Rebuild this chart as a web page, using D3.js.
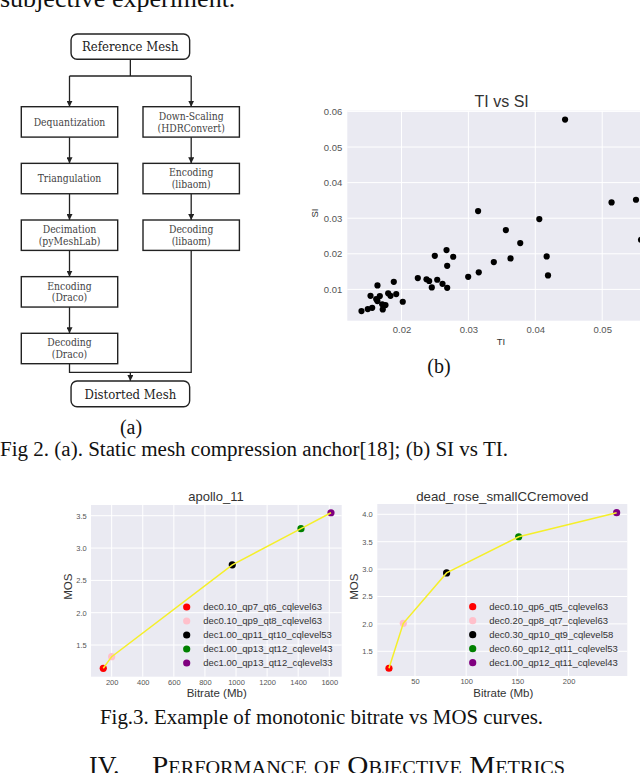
<!DOCTYPE html>
<html>
<head>
<meta charset="utf-8">
<script src="https://cdn.jsdelivr.net/npm/d3@7"></script>
<style>
  html, body { margin: 0; padding: 0; background: #fff; }
  svg { display: block; }
</style>
</head>
<body>
<svg id="fig" width="640" height="773"></svg>
<script>
// ---------------- DATA ----------------
const flowStart = "Reference Mesh";
const flowEnd = "Distorted Mesh";
const flowLeft = [["Dequantization"], ["Triangulation"], ["Decimation", "(pyMeshLab)"], ["Encoding", "(Draco)"], ["Decoding", "(Draco)"]];
const flowRight = [["Down-Scaling", "(HDRConvert)"], ["Encoding", "(libaom)"], ["Decoding", "(libaom)"]];

const tiValues = [0.01402,0.01496,0.01562,0.0172,0.01712,0.01761,0.01622,0.0164,0.01537,0.01676,0.01801,0.01836,0.01921,0.02019,0.01641,0.01885,0.02244,0.02374,0.02414,0.02534,0.02453,0.02613,0.02683,0.02498,0.02673,0.02773,0.02683,0.02997,0.03155,0.03145,0.0338,0.0363,0.0356,0.03775,0.0406,0.0417,0.0419,0.04445,0.05140,0.05505,0.0558];
const siValues = [0.0039,0.00447,0.00483,0.00438,0.00579,0.00559,0.00728,0.0067,0.0082,0.00812,0.00888,0.0082,0.00868,0.00652,0.01112,0.01213,0.01318,0.01285,0.01235,0.0127,0.01056,0.01157,0.01045,0.01944,0.02104,0.01916,0.01663,0.01354,0.01478,0.0320,0.01768,0.01871,0.02667,0.0230,0.02976,0.01927,0.01393,0.0577,0.03444,0.03518,0.02394];
const tiTicks = [0.02, 0.03, 0.04, 0.05, 0.06];
const siTicks = [0.01, 0.02, 0.03, 0.04, 0.05, 0.06];

const markerColors = ["#ff0000", "#ffc0cb", "#000000", "#008000", "#800080"];

const apolloBitrate = [146, 200, 976, 1418, 1611];
const apolloMOS = [1.14, 1.32, 2.74, 3.30, 3.546];
const apolloLabels = ["dec0.10_qp7_qt6_cqlevel63", "dec0.10_qp9_qt8_cqlevel63", "dec1.00_qp11_qt10_cqlevel53", "dec1.00_qp13_qt12_cqlevel43", "dec1.00_qp13_qt12_cqlevel33"];
const apolloXTicks = [200, 400, 600, 800, 1000, 1200, 1400, 1600];
const apolloYTicks = [1.5, 2.0, 2.5, 3.0, 3.5];

const roseBitrate = [24.6, 38.6, 80.9, 151.3, 247];
const roseMOS = [1.19, 2.01, 2.93, 3.59, 4.03];
const roseLabels = ["dec0.10_qp6_qt5_cqlevel63", "dec0.20_qp8_qt7_cqlevel63", "dec0.30_qp10_qt9_cqlevel58", "dec0.60_qp12_qt11_cqlevel53", "dec1.00_qp12_qt11_cqlevel43"];
const roseXTicks = [50, 100, 150, 200];
const roseYTicks = [1.5, 2.0, 2.5, 3.0, 3.5, 4.0];

// ---------------- DRAW ----------------
const svg = d3.select("#fig");
const serif = "'Liberation Serif', 'Times New Roman', serif";
const sans = "'Liberation Sans', Arial, sans-serif";
const slab = "'DejaVu Serif', serif";

// Page text
svg.append("text").attr("x", 0).attr("y", 7).attr("font-family", serif).attr("font-size", 26)
  .attr("fill", "#111").text("subjective experiment.");

svg.append("text").attr("x", 0).attr("y", 456).attr("font-family", serif).attr("font-size", 20.5)
  .attr("fill", "#111").attr("textLength", 508).attr("lengthAdjust", "spacingAndGlyphs")
  .text("Fig 2. (a). Static mesh compression anchor[18]; (b) SI vs TI.");

svg.append("text").attr("x", 100).attr("y", 724).attr("font-family", serif).attr("font-size", 21.5)
  .attr("fill", "#111").attr("textLength", 443).attr("lengthAdjust", "spacingAndGlyphs")
  .text("Fig.3. Example of monotonic bitrate vs MOS curves.");

svg.append("text").attr("x", 89).attr("y", 774).attr("font-family", serif).attr("font-size", 26)
  .attr("fill", "#111").text("IV.");
svg.append("text").attr("x", 152).attr("y", 774).attr("font-family", serif).attr("font-size", 26)
  .attr("fill", "#111").style("font-variant", "small-caps").attr("textLength", 413).attr("lengthAdjust", "spacingAndGlyphs")
  .text("Performance of Objective Metrics");

svg.append("text").attr("x", 131).attr("y", 434).attr("text-anchor", "middle").attr("font-family", serif)
  .attr("font-size", 20).attr("fill", "#111").text("(a)");
svg.append("text").attr("x", 439).attr("y", 373).attr("text-anchor", "middle").attr("font-family", serif)
  .attr("font-size", 20).attr("fill", "#111").text("(b)");

// ---------------- FLOWCHART ----------------
const fc = svg.append("g");
const colX = d3.scalePoint().domain(["left", "right"]).range([69.5, 191.2]);
const rowY = d3.scaleLinear().domain([0, 4]).range([106.7, 333.3]);
const boxW = 96.4, boxH = 30.4;
const stroke = "#222";

const defs = svg.append("defs");
defs.append("marker").attr("id", "arr").attr("viewBox", "0 0 10 10").attr("refX", 10).attr("refY", 5)
  .attr("markerWidth", 6).attr("markerHeight", 6).attr("markerUnits", "userSpaceOnUse").attr("orient", "auto")
  .append("path").attr("d", "M0,0 L10,5 L0,10 z").attr("fill", stroke);

function box(cx, top, lines, opt) {
  const w = opt && opt.w || boxW, h = opt && opt.h || boxH, r = opt && opt.r || 0;
  fc.append("rect").attr("x", cx - w / 2).attr("y", top).attr("width", w).attr("height", h)
    .attr("rx", r).attr("ry", r).attr("fill", "#fff").attr("stroke", stroke).attr("stroke-width", 1.4);
  const fs = opt && opt.fs || 10.3;
  const lh = 11.8;
  const cy = top + h / 2;
  lines.forEach((t, i) => {
    fc.append("text").attr("x", cx).attr("y", cy + (i - (lines.length - 1) / 2) * lh)
      .attr("dy", "0.36em").attr("text-anchor", "middle").attr("font-family", slab)
      .style("font-stretch", "condensed")
      .attr("font-size", fs).attr("fill", opt && opt.color || "#444").text(t);
  });
}
function link(points, arrow) {
  fc.append("path").attr("d", d3.line()(points)).attr("fill", "none").attr("stroke", stroke)
    .attr("stroke-width", 1.3).attr("marker-end", arrow ? "url(#arr)" : null);
}

const midX = (colX("left") + colX("right")) / 2;
const startTop = 34, startH = 25.3;
const endTop = 381, endH = 25.7;
const termW = 118.6;

link([[midX, startTop + startH], [midX, 76]], false);
link([[colX("left"), 76], [colX("right"), 76]], false);
link([[colX("left"), 76], [colX("left"), rowY(0)]], true);
link([[colX("right"), 76], [colX("right"), rowY(0)]], true);
flowLeft.forEach((d, i) => { if (i > 0) link([[colX("left"), rowY(i - 1) + boxH], [colX("left"), rowY(i)]], true); });
flowRight.forEach((d, i) => { if (i > 0) link([[colX("right"), rowY(i - 1) + boxH], [colX("right"), rowY(i)]], true); });
const mergeY = 372.3;
link([[colX("left"), rowY(flowLeft.length - 1) + boxH], [colX("left"), mergeY], [colX("right"), mergeY], [colX("right"), rowY(flowRight.length - 1) + boxH]], false);
link([[midX, mergeY], [midX, endTop]], true);

box(midX, startTop, [flowStart], { w: termW, h: startH, r: 6, fs: 13, color: "#222" });
box(midX, endTop, [flowEnd], { w: termW, h: endH, r: 6, fs: 13, color: "#222" });
flowLeft.forEach((d, i) => box(colX("left"), rowY(i), d));
flowRight.forEach((d, i) => box(colX("right"), rowY(i), d));

// ---------------- PANEL HELPER ----------------
function panel(cfg) {
  const g = svg.append("g");
  const [x0, x1] = cfg.x.range(), [y0, y1] = cfg.y.range();
  g.append("rect").attr("x", x0).attr("y", y1).attr("width", x1 - x0).attr("height", y0 - y1).attr("fill", "#eaeaf2");
  g.selectAll(".gx").data(cfg.xTicks).join("line").attr("x1", d => cfg.x(d)).attr("x2", d => cfg.x(d))
    .attr("y1", y1).attr("y2", y0).attr("stroke", "#fff").attr("stroke-width", 1);
  g.selectAll(".gy").data(cfg.yTicks).join("line").attr("y1", d => cfg.y(d)).attr("y2", d => cfg.y(d))
    .attr("x1", x0).attr("x2", x1).attr("stroke", "#fff").attr("stroke-width", 1);
  const ax = g.append("g").attr("transform", `translate(0,${y0})`)
    .call(d3.axisBottom(cfg.x).tickValues(cfg.xTicks).tickSize(0).tickPadding(cfg.padX).tickFormat(cfg.fmtX));
  const ay = g.append("g").attr("transform", `translate(${x0},0)`)
    .call(d3.axisLeft(cfg.y).tickValues(cfg.yTicks).tickSize(0).tickPadding(cfg.padY).tickFormat(cfg.fmtY));
  [ax, ay].forEach(a => {
    a.select(".domain").remove();
    a.selectAll("text").attr("font-family", sans).attr("font-size", cfg.tickFs).attr("fill", "#555");
  });
  g.append("text").attr("x", cfg.titleX).attr("y", cfg.titleY).attr("text-anchor", "middle")
    .attr("font-family", sans).attr("font-size", cfg.titleFs).attr("fill", "#333").text(cfg.title);
  g.append("text").attr("x", cfg.xLabX).attr("y", cfg.xLabY).attr("text-anchor", "middle")
    .attr("font-family", sans).attr("font-size", cfg.labFs).attr("fill", "#333").text(cfg.xLabel);
  g.append("text").attr("transform", `translate(${cfg.yLabX},${cfg.yLabY}) rotate(-90)`).attr("dy", "0.36em")
    .attr("text-anchor", "middle").attr("font-family", sans).attr("font-size", cfg.labFs).attr("fill", "#333").text(cfg.yLabel);
  return g;
}

// ---------------- SCATTER (TI vs SI) ----------------
const sx = d3.scaleLinear().domain([0.0119, 0.06]).range([347.3, 669.1]);
const sy = d3.scaleLinear().domain([0.0012, 0.0602]).range([320.7, 110.7]);
const sg = panel({ x: sx, y: sy, xTicks: tiTicks, yTicks: siTicks, fmtX: d3.format(".2f"), fmtY: d3.format(".2f"),
  padX: 6, padY: 5, tickFs: 9.5, title: "TI vs SI", titleX: 501.7, titleY: 106.5, titleFs: 16,
  xLabel: "TI", xLabX: 501, xLabY: 345, yLabel: "SI", yLabX: 315, yLabY: 213, labFs: 9.5 });
sg.selectAll(".pt").data(tiValues.map((t, i) => [t, siValues[i]])).join("circle")
  .attr("cx", d => sx(d[0])).attr("cy", d => sy(d[1])).attr("r", 3.1).attr("fill", "#000");

// ---------------- LINE PANELS ----------------
function mosPanel(cfg) {
  const g = panel(cfg);
  const pts = cfg.bx.map((b, i) => [b, cfg.my[i]]);
  g.selectAll(".mk").data(pts).join("circle").attr("cx", d => cfg.x(d[0])).attr("cy", d => cfg.y(d[1]))
    .attr("r", 3.6).attr("fill", (d, i) => markerColors[i]);
  g.append("path").attr("d", d3.line().x(d => cfg.x(d[0])).y(d => cfg.y(d[1]))(pts))
    .attr("fill", "none").attr("stroke", "#f5ef2a").attr("stroke-width", 1.5);
  const lg = g.append("g");
  cfg.labels.forEach((t, i) => {
    const yy = cfg.legY + i * 14;
    lg.append("circle").attr("cx", cfg.legX).attr("cy", yy).attr("r", 3.6).attr("fill", markerColors[i]);
    lg.append("text").attr("x", cfg.legX + 16.5).attr("y", yy).attr("dy", "0.36em")
      .attr("font-family", sans).attr("font-size", 9.5).attr("fill", "#333").text(t);
  });
}

mosPanel({ x: d3.scaleLinear().domain([67, 1680]).range([91, 341.7]),
  y: d3.scaleLinear().domain([1.01, 3.666]).range([676.7, 505]),
  xTicks: apolloXTicks, yTicks: apolloYTicks, fmtX: d3.format("d"), fmtY: d3.format(".1f"),
  padX: 3, padY: 4.3, tickFs: 7.5, title: "apollo_11", titleX: 216, titleY: 501, titleFs: 13,
  xLabel: "Bitrate (Mb)", xLabX: 216.7, xLabY: 697, yLabel: "MOS", yLabX: 68.3, yLabY: 586.7, labFs: 11.5,
  bx: apolloBitrate, my: apolloMOS, labels: apolloLabels, legX: 186.7, legY: 607 });

mosPanel({ x: d3.scaleLinear().domain([13.2, 257.4]).range([377.3, 627.3]),
  y: d3.scaleLinear().domain([1.049, 4.188]).range([676, 504]),
  xTicks: roseXTicks, yTicks: roseYTicks, fmtX: d3.format("d"), fmtY: d3.format(".1f"),
  padX: 3, padY: 4.6, tickFs: 7.5, title: "dead_rose_smallCCremoved", titleX: 502.3, titleY: 501, titleFs: 13.3,
  xLabel: "Bitrate (Mb)", xLabX: 503.3, xLabY: 697, yLabel: "MOS", yLabX: 354, yLabY: 586.7, labFs: 11.5,
  bx: roseBitrate, my: roseMOS, labels: roseLabels, legX: 472.7, legY: 606.7 });
</script>
</body>
</html>
